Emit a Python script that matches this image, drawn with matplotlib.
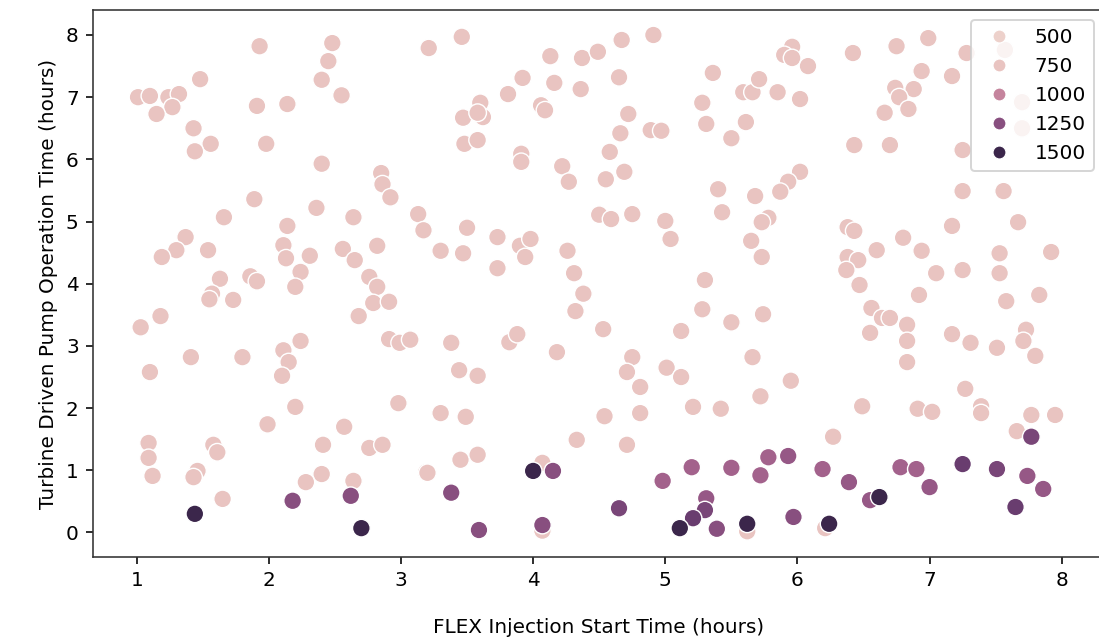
import matplotlib
matplotlib.use("Agg")
import matplotlib.pyplot as plt
from matplotlib.colors import Normalize
from matplotlib.lines import Line2D
import seaborn as sns

# ---- data (hours) ----
light_x = [1.93, 2.48, 2.45, 2.40, 2.55, 1.48, 1.01, 1.10, 1.24, 1.32, 1.27, 1.15, 1.91, 2.14, 1.43, 1.56, 1.44, 1.98,
           2.40, 2.85, 2.86, 2.92, 3.21, 3.13, 3.17, 1.89, 2.36, 2.64, 1.66, 2.14, 1.37, 1.30, 1.19, 1.54, 2.11, 2.13,
           2.31, 2.56, 2.65, 2.82, 2.24, 1.63, 1.86, 2.76, 1.91, 1.57, 1.55, 1.73, 2.20, 2.82, 2.79, 2.91, 2.68, 1.03,
           1.18, 1.41, 1.80, 2.11, 2.15, 2.10, 2.24, 1.10, 2.91, 2.99, 3.07, 2.98, 2.20, 1.99, 2.57, 1.09, 1.09, 1.12,
           1.58, 1.61, 2.41, 2.76, 2.86, 3.19, 1.46, 1.43, 2.40, 2.28, 2.64, 1.65,
           3.46, 4.13, 4.37, 4.49, 4.67, 4.91, 3.92, 3.81, 4.16, 4.36, 4.65, 3.60, 3.62, 3.47, 3.58, 4.06, 4.09, 3.48,
           3.58, 3.91, 3.91, 4.72, 4.66, 4.89, 4.97, 4.58, 4.22, 4.27, 4.55, 4.69, 5.36, 5.28, 5.31, 5.59, 5.66, 5.71,
           5.61, 5.50, 5.40, 5.43, 5.68, 5.78, 5.73, 5.65, 5.73, 3.50, 3.30, 3.47, 3.73, 3.73, 3.90, 3.98, 3.94, 4.26,
           4.31, 4.50, 4.59, 4.75, 5.00, 5.04, 5.30,
           4.38, 4.32, 5.28, 5.50, 5.12, 5.74, 5.66, 5.72, 4.53, 3.38, 3.44, 3.58, 3.82, 3.88, 4.18, 4.75, 4.71, 4.81,
           5.01, 5.12, 3.30, 3.49, 4.54, 4.81, 5.21, 5.42, 4.33, 4.71, 3.45, 3.58, 3.20, 4.07, 4.07, 6.27,
           5.96, 5.90, 5.96, 6.08, 6.42, 6.75, 6.99, 7.28, 5.85, 6.02, 6.94, 6.88, 6.74, 6.77, 6.84, 6.66, 7.17, 6.43,
           6.70, 7.25, 6.02, 5.93, 5.87, 7.25, 7.56, 7.17, 7.67, 6.38, 6.43, 6.80, 6.94, 6.60, 6.38, 6.46, 6.37, 7.53,
           7.92, 7.25, 7.53, 7.05, 7.57, 7.70, 7.70,
           6.47, 6.92, 7.83, 7.58, 6.56, 6.64, 6.70, 6.55, 6.83, 6.83, 6.83, 7.17, 7.31, 7.51, 7.73, 7.71, 7.80, 5.95,
           6.49, 6.91, 7.02, 7.27, 7.39, 7.39, 7.77, 7.95, 7.66, 6.21, 5.62]
light_y = [7.82, 7.87, 7.58, 7.28, 7.03, 7.29, 7.00, 7.02, 7.00, 7.05, 6.84, 6.73, 6.86, 6.89, 6.50, 6.25, 6.13, 6.25,
           5.93, 5.78, 5.60, 5.39, 7.79, 5.12, 4.86, 5.36, 5.22, 5.07, 5.07, 4.93, 4.75, 4.54, 4.43, 4.54, 4.62, 4.41,
           4.45, 4.56, 4.38, 4.61, 4.19, 4.08, 4.12, 4.11, 4.04, 3.84, 3.75, 3.74, 3.95, 3.95, 3.69, 3.71, 3.48, 3.30,
           3.48, 2.82, 2.82, 2.93, 2.74, 2.52, 3.08, 2.58, 3.11, 3.05, 3.10, 2.08, 2.02, 1.74, 1.70, 1.44, 1.20, 0.91,
           1.41, 1.29, 1.41, 1.36, 1.41, 0.97, 0.99, 0.89, 0.94, 0.81, 0.83, 0.54,
           7.97, 7.66, 7.63, 7.73, 7.92, 8.00, 7.31, 7.05, 7.23, 7.13, 7.32, 6.91, 6.68, 6.67, 6.75, 6.87, 6.79, 6.25,
           6.31, 6.09, 5.96, 6.73, 6.42, 6.47, 6.46, 6.12, 5.89, 5.64, 5.68, 5.80, 7.39, 6.91, 6.57, 7.08, 7.08, 7.29,
           6.60, 6.34, 5.52, 5.15, 5.41, 5.06, 4.99, 4.69, 4.43, 4.90, 4.53, 4.49, 4.75, 4.25, 4.61, 4.72, 4.43, 4.53,
           4.17, 5.11, 5.04, 5.12, 5.01, 4.72, 4.06,
           3.84, 3.56, 3.59, 3.38, 3.24, 3.51, 2.82, 2.19, 3.27, 3.05, 2.61, 2.52, 3.06, 3.19, 2.90, 2.82, 2.58, 2.34,
           2.65, 2.50, 1.92, 1.86, 1.87, 1.92, 2.02, 1.99, 1.49, 1.41, 1.17, 1.25, 0.96, 1.12, 0.03, 1.54,
           7.81, 7.68, 7.63, 7.50, 7.71, 7.82, 7.95, 7.71, 7.08, 6.97, 7.42, 7.13, 7.15, 7.00, 6.81, 6.75, 7.34, 6.23,
           6.23, 6.15, 5.80, 5.64, 5.48, 5.49, 5.49, 4.93, 4.99, 4.91, 4.85, 4.74, 4.53, 4.54, 4.43, 4.38, 4.22, 4.49,
           4.51, 4.22, 4.17, 4.17, 7.76, 6.92, 6.50,
           3.98, 3.82, 3.82, 3.72, 3.61, 3.45, 3.45, 3.21, 3.34, 3.08, 2.74, 3.19, 3.05, 2.97, 3.26, 3.08, 2.84, 2.44,
           2.03, 1.99, 1.94, 2.31, 2.03, 1.92, 1.89, 1.89, 1.63, 0.07, 0.02]
LIGHT_HUE = 750

dark_x = [1.44, 2.70, 2.18, 2.62, 3.38, 3.59, 4.00, 4.15, 4.07, 4.65, 4.98, 5.20, 5.50, 5.72, 5.78, 5.93, 6.19, 6.39,
          5.31, 5.30, 5.21, 5.11, 5.39, 5.62, 5.97, 6.24, 6.55, 6.62, 6.78, 6.90, 7.00, 7.25, 7.51, 7.74, 7.86, 7.65,
          7.77]
dark_y = [0.30, 0.07, 0.51, 0.59, 0.64, 0.04, 0.99, 0.99, 0.12, 0.39, 0.83, 1.05, 1.04, 0.92, 1.21, 1.23, 1.02, 0.81,
          0.55, 0.36, 0.23, 0.07, 0.06, 0.14, 0.25, 0.14, 0.52, 0.57, 1.05, 1.02, 0.73, 1.10, 1.02, 0.91, 0.70, 0.41,
          1.54]
dark_hue = [1500, 1500, 1250, 1250, 1250, 1250, 1500, 1250, 1250, 1300, 1150, 1150, 1150, 1150, 1150, 1200, 1150, 1200,
            1200, 1300, 1350, 1500, 1250, 1500, 1250, 1500, 1200, 1500, 1150, 1150, 1200, 1350, 1300, 1200, 1200, 1350,
            1300]
legend_levels = [500, 750, 1000, 1250, 1500]

# ---- figure ----
DPI = 144
fig = plt.figure(figsize=(1099 / DPI, 640 / DPI), dpi=DPI)
ax = fig.add_axes([92.7 / 1099, 1 - 557 / 640, (1104 - 92.7) / 1099, (557 - 10) / 640])

cmap = sns.cubehelix_palette(as_cmap=True)
norm = Normalize(vmin=700, vmax=1550, clip=True)

ax.scatter(light_x, light_y, c=[cmap(norm(LIGHT_HUE))] * len(light_x), s=78,
           edgecolors="white", linewidths=0.7, zorder=2)
ax.scatter(dark_x, dark_y, c=[cmap(norm(h)) for h in dark_hue], s=78,
           edgecolors="white", linewidths=0.7, zorder=3)

ax.set_xlim(0.667, 8.32)
ax.set_ylim(-0.394, 8.402)
ax.set_xticks(range(1, 9))
ax.set_yticks(range(0, 9))
ax.set_xlabel("FLEX Injection Start Time (hours)", labelpad=14)
ax.set_ylabel("Turbine Driven Pump Operation Time (hours)")
for sp in ax.spines.values():
    sp.set_color("#333333")

handles = [Line2D([], [], linestyle="", marker="o", markersize=6.5, markerfacecolor=cmap(norm(v)),
                  markeredgecolor="white", markeredgewidth=0.6) for v in legend_levels]
ax.legend(handles, [str(v) for v in legend_levels], loc="upper right")

fig.savefig("out.png", dpi=DPI)
